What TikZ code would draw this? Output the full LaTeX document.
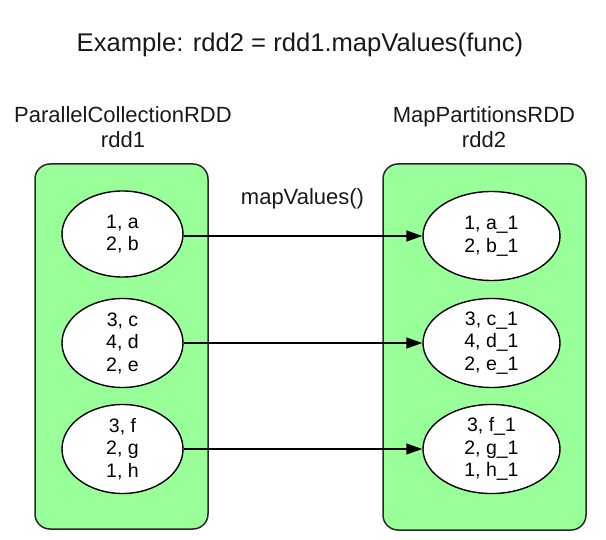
\documentclass[tikz,border=0pt]{standalone}
\usepackage{fontspec}
\setmainfont{Liberation Sans}
\usetikzlibrary{arrows.meta,shapes.geometric}
\definecolor{boxgreen}{RGB}{153,255,153}
\definecolor{edgegray}{RGB}{40,40,40}
\tikzset{
  rddbox/.style={draw=edgegray,fill=boxgreen,rounded corners=15pt,line width=1.5pt,inner sep=0pt},
  part/.style={ellipse,draw=black,fill=white,line width=1.4pt,inner sep=0pt,align=center,
    font=\fontsize{19.5}{22.5}\selectfont},
  lbl/.style={align=center,font=\fontsize{22}{25}\selectfont,text=black!90},
  flow/.style={line width=1.4pt,-{Triangle[length=16pt,width=11pt]}}
}
\begin{document}
\begin{tikzpicture}[x=1pt,y=-1pt]
\useasboundingbox (0,0) rectangle (606,540);
\node[lbl,font=\fontsize{25.6}{28}\selectfont] (title) at (300,45) {Example: rdd2 = rdd1.mapValues(func)};
\node[lbl] (lab1) at (123,127.5) {ParallelCollectionRDD\\rdd1};
\node[lbl] (lab2) at (484,127.5) {MapPartitionsRDD\\rdd2};
\node[rddbox,minimum width=173pt,minimum height=365pt] (box1) at (121.5,346.5) {};
\node[rddbox,minimum width=203pt,minimum height=366pt] (box2) at (484.5,347) {};
\node[part,minimum width=121pt,minimum height=86pt] (l1) at (122.5,234) {1, a\\2, b};
\node[part,minimum width=121pt,minimum height=89pt] (l2) at (122.5,343) {3, c\\4, d\\2, e};
\node[part,minimum width=121pt,minimum height=89pt] (l3) at (122.5,449) {3, f\\2, g\\1, h};
\node[part,minimum width=137pt,minimum height=89pt] (r1) at (491.5,236) {1, a\_1\\2, b\_1};
\node[part,minimum width=137pt,minimum height=89pt] (r2) at (491.5,343) {3, c\_1\\4, d\_1\\2, e\_1};
\node[part,minimum width=137pt,minimum height=89pt] (r3) at (491.5,449) {3, f\_1\\2, g\_1\\1, h\_1};
\node[lbl] (op) at (302.5,199) {mapValues()};
\draw[flow] (l1.east |- r1.west) -- (r1.west);
\draw[flow] (l2) -- (r2);
\draw[flow] (l3) -- (r3);
\end{tikzpicture}
\end{document}
